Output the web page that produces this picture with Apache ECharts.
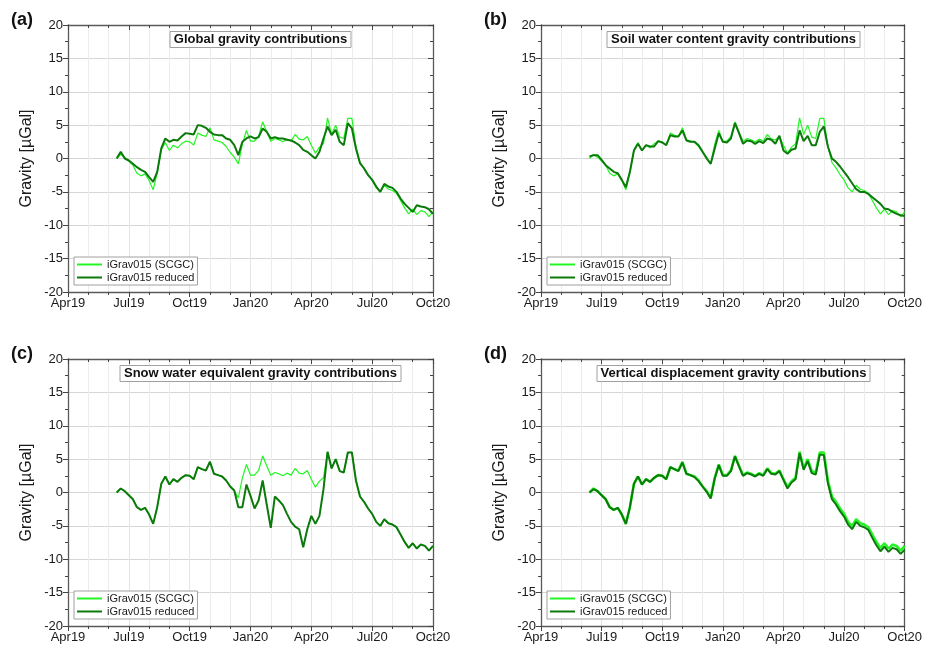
<!DOCTYPE html>
<html><head><meta charset="utf-8">
<script src="https://cdn.jsdelivr.net/npm/echarts@6/dist/echarts.min.js"></script>
<style>html,body{margin:0;padding:0;background:#fff}#c{width:925px;height:650px}</style>
</head><body><div id="c"></div>
<script>
// x positions: months since 1 Apr 2019
const months = [2.4,2.6,2.8,3.0,3.2,3.4,3.6,3.8,4.0,4.2,
4.4,4.6,4.8,5.0,5.2,5.4,5.6,5.8,6.0,6.2,
6.4,6.6,6.8,7.0,7.2,7.4,7.6,7.8,8.0,8.2,
8.4,8.6,8.8,9.0,9.2,9.4,9.6,9.8,10.0,10.2,
10.4,10.6,10.8,11.0,11.2,11.4,11.6,11.8,12.0,12.2,
12.4,12.6,12.8,13.0,13.2,13.4,13.6,13.8,14.0,14.2,
14.4,14.6,14.8,15.0,15.2,15.4,15.6,15.8,16.0,16.2,
16.4,16.6,16.8,17.0,17.2,17.4,17.6,17.8,18.0];
const xTickLabels = ['Apr19','Jul19','Oct19','Jan20','Apr20','Jul20','Oct20'];
const seriesNames = ['iGrav015 (SCGC)','iGrav015 reduced'];
const panelTitles = ['Global gravity contributions','Soil water content gravity contributions','Snow water equivalent gravity contributions','Vertical displacement gravity contributions'];
const panelLabels = ['(a)','(b)','(c)','(d)'];

const scgc = [0.0,0.6,0.2,-0.4,-1.0,-2.2,-2.6,-2.3,-3.3,-4.7,
-2.2,1.3,2.4,1.2,2.0,1.6,2.2,2.6,2.5,2.0,
3.8,3.5,3.3,4.6,2.8,2.6,2.4,1.8,0.9,0.2,
-0.8,2.2,4.2,2.6,2.6,3.3,5.5,4.0,2.6,3.0,
2.8,2.5,2.9,2.6,3.6,2.9,2.8,3.3,2.0,0.8,
1.7,2.2,6.1,3.6,5.0,3.2,3.0,6.0,6.0,1.8,
-0.6,-1.4,-2.4,-3.2,-4.4,-5.0,-4.0,-4.6,-4.8,-5.2,
-6.3,-7.4,-8.3,-7.6,-8.4,-7.8,-8.0,-8.7,-8.0];

const reducedGlobal = [0.0,1.0,0.0,-0.3,-0.8,-1.3,-1.7,-2.0,-2.8,-3.5,
-2.0,1.5,3.0,2.5,2.8,2.7,3.3,3.8,3.7,3.6,
5.0,4.9,4.6,4.0,3.6,3.5,3.5,3.0,2.8,2.0,
0.5,2.5,3.0,3.3,3.0,3.2,4.5,4.0,3.0,3.2,
3.0,3.0,2.8,2.7,2.4,2.0,1.3,1.0,0.5,0.0,
1.0,3.0,4.8,3.5,4.3,2.5,2.0,5.3,4.5,1.5,
-0.7,-1.5,-2.5,-3.2,-4.2,-5.0,-3.8,-4.2,-4.4,-5.0,
-6.0,-6.8,-7.4,-8.0,-7.0,-7.2,-7.3,-7.6,-8.3];

const reducedSoil = [0.3,0.5,0.5,-0.2,-1.0,-1.5,-2.0,-2.2,-3.2,-4.3,
-2.0,1.2,2.2,1.2,2.0,1.8,1.8,2.6,2.4,2.0,
3.5,3.3,3.3,4.2,2.7,2.5,2.5,2.0,1.0,0.0,
-0.8,1.5,3.8,2.5,2.4,3.0,5.3,3.8,2.2,2.7,
2.6,2.2,2.6,2.3,3.0,2.8,2.2,3.4,1.2,0.7,
1.3,1.5,4.2,2.6,3.4,2.0,2.0,4.0,4.8,1.8,
0.0,-0.5,-1.2,-2.0,-2.8,-3.7,-4.6,-5.0,-5.0,-5.3,
-5.8,-6.3,-6.8,-7.5,-7.6,-8.0,-8.3,-8.5,-8.6];

const reducedSnow = [0.0,0.6,0.2,-0.4,-1.0,-2.2,-2.6,-2.3,-3.3,-4.7,
-2.2,1.3,2.4,1.2,2.0,1.6,2.2,2.6,2.5,2.0,
3.8,3.5,3.3,4.6,2.8,2.6,2.4,1.8,0.9,0.3,
-2.2,-2.2,1.2,-0.5,-2.4,-1.2,1.8,-1.8,-5.3,-0.6,
-1.2,-1.9,-3.2,-4.4,-5.1,-5.5,-8.2,-5.5,-3.5,-4.7,
-3.5,0.5,6.1,3.6,5.0,3.2,3.0,6.0,6.0,1.8,
-0.6,-1.4,-2.4,-3.2,-4.4,-5.0,-4.0,-4.6,-4.8,-5.2,
-6.3,-7.4,-8.3,-7.6,-8.4,-7.8,-8.0,-8.7,-8.0];

const reducedDisp = [0.0,0.5,0.2,-0.4,-1.0,-2.2,-2.6,-2.3,-3.3,-4.7,
-2.2,1.3,2.4,1.2,2.0,1.6,2.2,2.6,2.5,2.0,
3.8,3.5,3.2,4.5,2.8,2.6,2.3,1.7,0.9,0.1,
-0.9,2.1,4.1,2.5,2.5,3.2,5.4,3.9,2.5,2.9,
2.7,2.4,2.8,2.5,3.5,2.8,2.7,3.2,1.9,0.6,
1.5,2.0,5.9,3.4,4.7,2.9,2.7,5.7,5.6,1.4,
-1.0,-1.8,-2.8,-3.6,-4.8,-5.5,-4.4,-5.0,-5.2,-5.6,
-6.8,-7.9,-8.8,-8.1,-8.9,-8.3,-8.5,-9.2,-8.6];

const reducedSets = [reducedGlobal, reducedSoil, reducedSnow, reducedDisp];

const LIGHT = '#22f522', DARK = '#0b7a0b';
const FONT = 'Liberation Sans';
const layouts = [
  {left:68, top:25, lightW:1.2},
  {left:541, top:25, lightW:1.2},
  {left:68, top:359, lightW:1.2},
  {left:541, top:359, lightW:2.6}
];
const GW = 365, GH = 267;

const grid = [], xAxis = [], yAxis = [], series = [], title = [], legend = [];
const frame = {show:true, onZero:false, lineStyle:{color:'#5a5a5a', width:1.3}};
layouts.forEach((L, i) => {
  grid.push({left:L.left, top:L.top, width:GW, height:GH, containLabel:false});
  xAxis.push({gridIndex:i, type:'value', min:0, max:18, interval:3, position:'bottom',
    axisLine:frame, axisTick:{show:true, inside:false, length:5, lineStyle:{color:'#444'}},
    minorTick:{show:true, splitNumber:3, length:3, lineStyle:{color:'#444'}},
    axisLabel:{formatter:v => xTickLabels[Math.round(v/3)], fontSize:13, color:'#1a1a1a', fontFamily:FONT, margin:5},
    splitLine:{show:true, lineStyle:{color:'#e4e4e4', width:1}},
    minorSplitLine:{show:true, lineStyle:{color:'#ececec', width:1}}});
  xAxis.push({gridIndex:i, type:'value', min:0, max:18, interval:3, position:'top',
    axisLine:frame, axisTick:{show:true, inside:true, length:5, lineStyle:{color:'#444'}},
    minorTick:{show:true, splitNumber:3, length:3, lineStyle:{color:'#444'}},
    axisLabel:{show:false}, splitLine:{show:false}});
  yAxis.push({gridIndex:i, type:'value', min:-20, max:20, interval:5, position:'left',
    axisLine:frame, axisTick:{show:true, inside:false, length:5, lineStyle:{color:'#444'}},
    minorTick:{show:true, splitNumber:2, length:3, lineStyle:{color:'#444'}},
    axisLabel:{fontSize:13, color:'#1a1a1a', fontFamily:FONT, margin:5},
    splitLine:{show:true, lineStyle:{color:'#d6d6d6', width:1}},
    name:'Gravity [µGal]', nameLocation:'middle', nameGap:33, nameRotate:90,
    nameTextStyle:{fontSize:16, color:'#1a1a1a', fontFamily:FONT}});
  yAxis.push({gridIndex:i, type:'value', min:-20, max:20, interval:5, position:'right',
    axisLine:frame, axisTick:{show:true, inside:true, length:5, lineStyle:{color:'#444'}},
    minorTick:{show:true, splitNumber:2, length:3, lineStyle:{color:'#444'}},
    axisLabel:{show:false}, splitLine:{show:false}});
  series.push({name:seriesNames[0], type:'line', xAxisIndex:2*i, yAxisIndex:2*i, symbol:'none', showSymbol:false,
    data:months.map((m,k)=>[m, scgc[k]]), lineStyle:{color:LIGHT, width:L.lightW}, itemStyle:{color:LIGHT}, z:2});
  series.push({name:seriesNames[1], type:'line', xAxisIndex:2*i, yAxisIndex:2*i, symbol:'none', showSymbol:false,
    data:months.map((m,k)=>[m, reducedSets[i][k]]), lineStyle:{color:DARK, width:2}, itemStyle:{color:DARK}, z:3});
  title.push({text:panelTitles[i], left:L.left + GW/2 + 6, top:L.top + 6, textAlign:'center',
    borderColor:'#a0a0a0', borderWidth:1, backgroundColor:'#fff', padding:[2,4,2,4],
    textStyle:{fontSize:13, fontWeight:'bold', color:'#111', fontFamily:FONT}});
  title.push({text:panelLabels[i], left:L.left - 62, top:L.top - 19,
    textStyle:{fontSize:18, fontWeight:'bold', color:'#111', fontFamily:FONT}});
  legend.push({data:seriesNames, orient:'vertical', left:L.left + 6, top:L.top + 232,
    borderColor:'#a0a0a0', borderWidth:1, backgroundColor:'#fff', padding:[2,3,2,2], itemGap:2,
    itemWidth:25, itemHeight:11, selectedMode:false,
    itemStyle:{opacity:0, borderWidth:0},
    textStyle:{fontSize:11, color:'#1a1a1a', fontFamily:FONT}});
});

const chart = echarts.init(document.getElementById('c'), null, {renderer:'canvas'});
chart.setOption({animation:false, backgroundColor:'#fff', grid, xAxis, yAxis, series, title, legend});
</script></body></html>
